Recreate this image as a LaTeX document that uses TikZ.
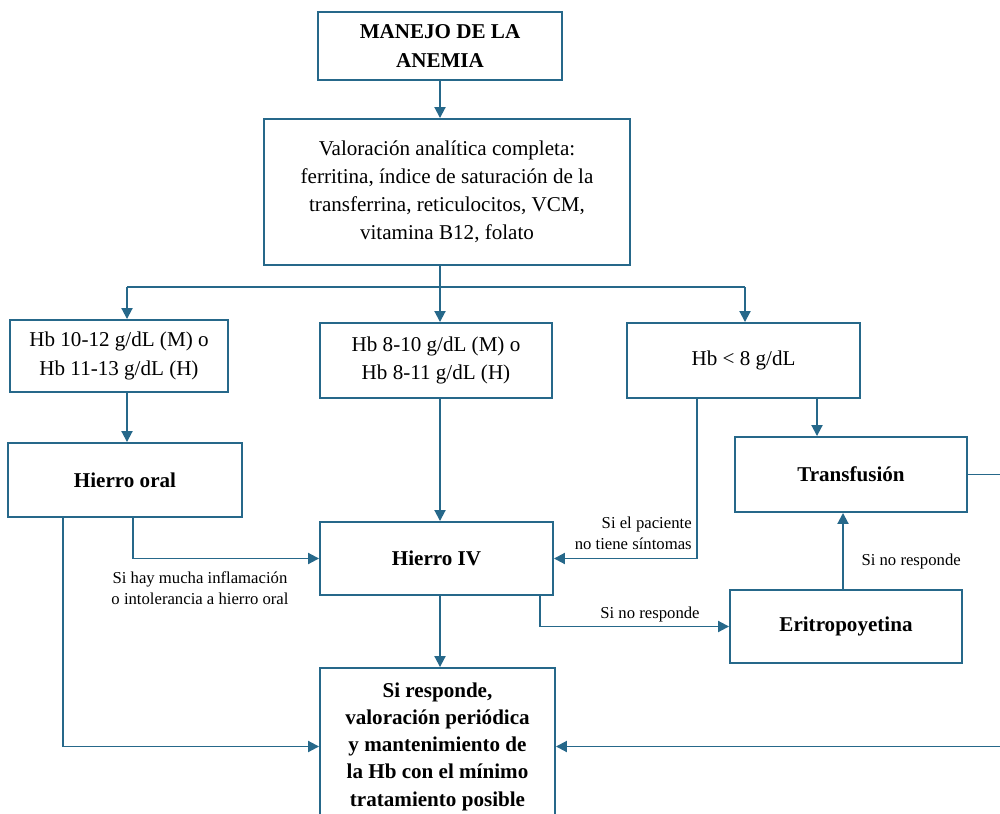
\documentclass[tikz,border=0pt]{standalone}
\usepackage{fontspec}
\setmainfont{Liberation Serif}
\usetikzlibrary{arrows.meta}
\definecolor{lc}{RGB}{38,104,138}
\tikzset{
  box/.style={draw=lc, line width=1.1pt, inner sep=0pt, align=center, fill=white},
  txt/.style={font=\fontsize{12}{16}\selectfont},
  btxt/.style={font=\fontsize{12}{16}\selectfont\bfseries},
  lbl/.style={font=\fontsize{9.5}{12}\selectfont, inner sep=0pt},
  conn/.style={draw=lc, line width=1.1pt},
  arr/.style={conn, -{Triangle[length=2.2mm,width=2.2mm]}}
}
\begin{document}
\begin{tikzpicture}[x=0.02cm,y=-0.02cm]
\useasboundingbox (0,0) rectangle (1000,814);
% boxes
\node[box,btxt,minimum width=4.88cm,minimum height=1.36cm] (top) at (440,46) {MANEJO DE LA\\ANEMIA};
\node[box,txt,minimum width=7.32cm,minimum height=2.92cm] (val) at (447,192) {Valoración analítica completa:\\ferritina, índice de saturación de la\\transferrina, reticulocitos, VCM,\\vitamina B12, folato};
\node[box,txt,minimum width=4.36cm,minimum height=1.44cm] (hb1) at (119,356) {Hb 10-12 g/dL (M) o\\Hb 11-13 g/dL (H)};
\node[box,txt,minimum width=4.64cm,minimum height=1.5cm] (hb2) at (436,360.5) {Hb 8-10 g/dL (M) o\\Hb 8-11 g/dL (H)};
\node[box,txt,minimum width=4.66cm,minimum height=1.5cm] (hb3) at (743.5,360.5) {Hb < 8 g/dL};
\node[box,btxt,minimum width=4.68cm,minimum height=1.48cm] (oral) at (125,480) {Hierro oral};
\node[box,btxt,minimum width=4.66cm,minimum height=1.46cm] (iv) at (436.5,558.5) {Hierro IV};
\node[box,btxt,minimum width=4.64cm,minimum height=1.5cm] (tra) at (851,474.5) {Transfusión};
\node[box,btxt,minimum width=4.64cm,minimum height=1.46cm] (eri) at (846,626.5) {Eritropoyetina};
\node[box,font=\fontsize{12}{15.5}\selectfont\bfseries,minimum width=4.7cm,minimum height=3.14cm] (fin) at (437.5,746.5) {Si responde,\\valoración periódica\\y mantenimiento de\\la Hb con el mínimo\\tratamiento posible};
% coordinates
\coordinate (split) at (440,287);
\coordinate (b1) at (127,287);
\coordinate (b3) at (745,287);
\coordinate (ivin) at (440,0);
\coordinate (oralx) at (133,0);
\coordinate (oralx2) at (63,0);
\coordinate (hb3x) at (697,0);
\coordinate (hb3x2) at (817,0);
\coordinate (erix) at (843,0);
\coordinate (ivx) at (540,0);
\coordinate (rside) at (1010,0);
% connectors
\draw[arr] (top.south) -- (top.south |- val.north);
\draw[conn] (split |- val.south) -- (split);
\draw[conn] (b1) -- (b3);
\draw[arr] (b1) -- (b1 |- hb1.north);
\draw[arr] (split) -- (split |- hb2.north);
\draw[arr] (b3) -- (b3 |- hb3.north);
\draw[arr] (b1 |- hb1.south) -- (b1 |- oral.north);
\draw[arr] (ivin |- hb2.south) -- (ivin |- iv.north);
\draw[arr] (oralx |- oral.south) |- (iv.west);
\draw[arr] (hb3x |- hb3.south) |- (iv.east);
\draw[arr] (hb3x2 |- hb3.south) -- (hb3x2 |- tra.north);
\draw[arr] (erix |- eri.north) -- (erix |- tra.south) node[lbl, pos=0.36, right=10pt] {Si no responde};
\draw[arr] (ivx |- iv.south) |- (eri.west);
\draw[arr] (ivin |- iv.south) -- (ivin |- fin.north);
\draw[arr] (oralx2 |- oral.south) |- (fin.west);
\draw[arr] (tra.east) -| (rside |- fin.east) -- (fin.east);
% labels
\node[lbl, align=center] (l1) at (200,588) {Si hay mucha inflamación\\o intolerancia a hierro oral};
\node[lbl, align=right, anchor=east] (l2) at (692,533) {Si el paciente\\no tiene síntomas};
\node[lbl] (l3) at (650,614) {Si no responde};
\end{tikzpicture}
\end{document}
